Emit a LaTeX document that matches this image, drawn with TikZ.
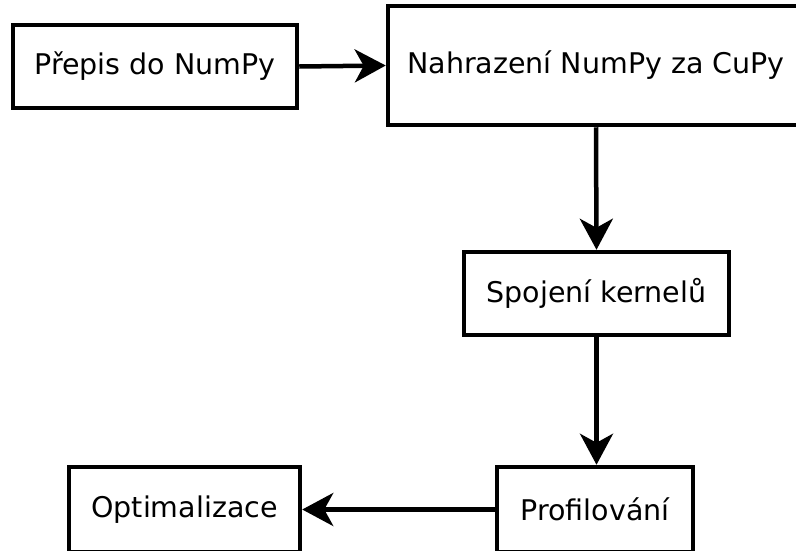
\documentclass[tikz,border=0pt]{standalone}
\usepackage{fontspec}
\setmainfont{DejaVu Sans}
\usetikzlibrary{arrows.meta}
\begin{document}
\begin{tikzpicture}[x=1pt,y=-1pt,
  box/.style={draw=black,line width=4.5pt,fill=white,inner sep=0pt,font=\fontsize{28.5}{34}\selectfont},
  conn/.style={line width=4.5pt,-{Stealth[length=31pt,width=33pt,inset=9pt]}}]
\clip (0,0) rectangle (796,550);
\node[box,minimum width=284pt,minimum height=83pt] (b1) at (155,66.5) {Přepis do NumPy};
\node[box,minimum width=416pt,minimum height=119pt] (b2) at (596,65.5) {Nahrazení NumPy za CuPy};
\node[box,minimum width=265pt,minimum height=83pt] (b3) at (596.5,293.5) {Spojení kernelů};
\node[box,minimum width=196pt,minimum height=85pt] (b4) at (595,509.5) {Profilování};
\node[box,minimum width=231pt,minimum height=85pt] (b5) at (184.5,509.5) {Optimalizace};
\draw[conn] (b1.east) -- (b2.west);
\draw[conn] (b2.south) -- (b3.north);
\draw[conn] (b3.south) -- (b3.south |- b4.north);
\draw[conn] (b4.west) -- (b5.east);
\end{tikzpicture}
\end{document}
